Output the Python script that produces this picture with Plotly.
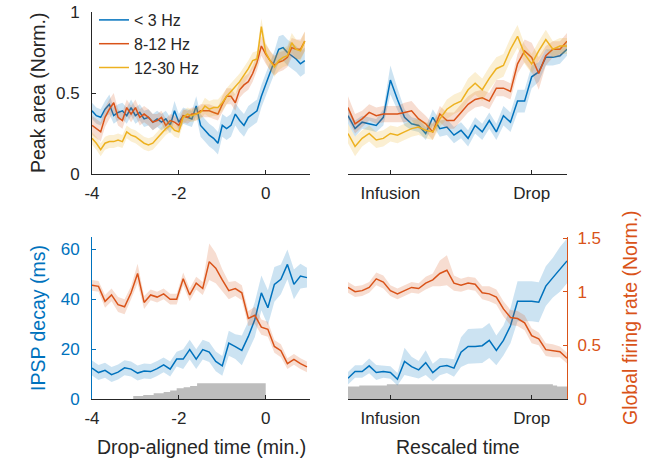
import numpy as np
import plotly.graph_objects as go

W, H = 652, 461

# ---------------- data ----------------
# Top-left: peak area vs drop-aligned time (min.)
t_tl = np.round(np.arange(-4.0, 0.95, 0.1), 2)
tl_low = [0.39,0.36,0.35,0.40,0.43,0.36,0.38,0.39,0.36,0.41,
          0.36,0.38,0.34,0.35,0.32,0.34,0.32,0.34,0.30,0.39,
          0.32,0.36,0.35,0.34,0.42,0.30,0.27,0.24,0.22,0.19,
          0.30,0.28,0.30,0.37,0.33,0.30,0.35,0.37,0.39,0.48,
          0.55,0.62,0.69,0.77,0.78,0.75,0.73,0.71,0.68,0.70]
tl_low_err = [0.05,0.05,0.05,0.05,0.06,0.05,0.05,0.05,0.05,0.05,
              0.05,0.05,0.05,0.05,0.05,0.05,0.05,0.05,0.05,0.06,
              0.05,0.05,0.05,0.05,0.06,0.07,0.07,0.07,0.07,0.07,
              0.07,0.07,0.07,0.07,0.07,0.07,0.07,0.07,0.07,0.07,
              0.07,0.07,0.07,0.08,0.08,0.08,0.08,0.08,0.08,0.08]
tl_alpha = [0.30,0.28,0.26,0.35,0.40,0.44,0.35,0.33,0.41,0.37,
            0.41,0.35,0.37,0.35,0.32,0.33,0.35,0.30,0.33,0.32,
            0.30,0.36,0.35,0.37,0.37,0.39,0.39,0.39,0.38,0.37,
            0.43,0.48,0.48,0.44,0.52,0.55,0.57,0.62,0.69,0.79,
            0.74,0.70,0.67,0.69,0.70,0.72,0.78,0.77,0.77,0.82]
tl_alpha_err = [0.06,0.06,0.06,0.06,0.06,0.06,0.05,0.05,0.05,0.05,
                0.05,0.05,0.05,0.05,0.05,0.04,0.04,0.04,0.04,0.04,
                0.04,0.04,0.04,0.04,0.04,0.04,0.04,0.04,0.04,0.04,
                0.05,0.05,0.05,0.05,0.05,0.05,0.05,0.05,0.05,0.06,
                0.06,0.06,0.06,0.06,0.06,0.06,0.06,0.06,0.06,0.06]
tl_beta = [0.22,0.19,0.15,0.19,0.20,0.20,0.21,0.20,0.26,0.24,
           0.23,0.21,0.19,0.18,0.19,0.22,0.25,0.28,0.30,0.27,
           0.26,0.35,0.37,0.36,0.37,0.38,0.42,0.40,0.41,0.41,
           0.44,0.48,0.51,0.54,0.57,0.61,0.65,0.70,0.71,0.91,
           0.75,0.70,0.66,0.70,0.72,0.73,0.81,0.77,0.76,0.82]
tl_beta_err = [0.04,0.04,0.04,0.04,0.04,0.04,0.04,0.04,0.04,0.04,
               0.04,0.04,0.04,0.04,0.04,0.04,0.04,0.04,0.04,0.04,
               0.04,0.04,0.04,0.04,0.04,0.04,0.05,0.05,0.05,0.05,
               0.05,0.05,0.05,0.05,0.05,0.05,0.05,0.05,0.05,0.05,
               0.06,0.06,0.06,0.06,0.06,0.06,0.06,0.06,0.06,0.06]

# Top-right: peak area vs rescaled time (bin index)
r_idx = np.arange(32)
tr_low = [0.36,0.28,0.32,0.31,0.30,0.35,0.58,0.46,0.35,0.31,
          0.30,0.25,0.35,0.28,0.29,0.24,0.27,0.22,0.30,0.26,
          0.33,0.26,0.36,0.32,0.45,0.45,0.60,0.63,0.72,0.72,
          0.73,0.77]
tr_low_err = [0.05,0.05,0.04,0.04,0.04,0.05,0.09,0.07,0.05,0.04,
              0.04,0.04,0.05,0.05,0.05,0.05,0.05,0.05,0.05,0.05,
              0.05,0.05,0.06,0.06,0.07,0.07,0.07,0.06,0.05,0.05,
              0.05,0.04]
tr_alpha = [0.41,0.31,0.34,0.38,0.36,0.37,0.37,0.37,0.38,0.39,
            0.34,0.31,0.26,0.37,0.33,0.33,0.38,0.43,0.46,0.47,
            0.45,0.53,0.53,0.51,0.68,0.76,0.72,0.62,0.73,0.77,
            0.77,0.82]
tr_alpha_err = [0.07,0.06,0.05,0.05,0.05,0.05,0.05,0.05,0.06,0.06,
                0.06,0.05,0.05,0.05,0.05,0.05,0.05,0.05,0.05,0.05,
                0.05,0.05,0.05,0.05,0.06,0.07,0.09,0.10,0.06,0.05,
                0.05,0.05]
tr_beta = [0.25,0.17,0.22,0.25,0.21,0.22,0.25,0.24,0.26,0.28,
           0.29,0.27,0.26,0.34,0.40,0.43,0.45,0.52,0.56,0.52,
           0.59,0.65,0.67,0.77,0.85,0.74,0.68,0.76,0.83,0.77,
           0.79,0.79]
tr_beta_err = [0.06,0.06,0.05,0.05,0.05,0.05,0.05,0.05,0.05,0.05,
               0.05,0.05,0.05,0.05,0.06,0.06,0.06,0.07,0.07,0.07,
               0.07,0.07,0.07,0.07,0.07,0.06,0.06,0.06,0.06,0.05,
               0.05,0.05]

# Bottom-left: IPSP decay (ms) and global firing rate (Norm.) vs drop-aligned time
t_bl = np.round(np.arange(-4.0, 1.0, 0.15), 2)
bl_ipsp = [12.4,10.6,11.5,9.8,10.8,12.5,12.0,10.4,11.2,11.0,
           12.2,13.7,12.0,16.0,16.0,19.8,16.0,19.8,18.8,15.1,
           13.3,22.4,21.0,19.5,25.1,31.9,42.6,36.6,46.0,48.0,
           54.0,46.0,49.3,48.7]
bl_ipsp_err = [3,3,3,3,3,3,3,3,3,3,
               3,3,3,3,4,4,4,4,4,4,
               4,5,5,6,6,7,7,7,7,6,
               6,6,5,4]
bl_rate = [1.06,1.05,0.91,0.97,0.88,0.86,0.99,1.17,0.90,0.97,
           0.95,0.98,0.93,0.93,1.12,0.97,1.08,1.03,1.28,1.22,
           1.11,1.01,1.03,0.99,0.75,0.78,0.67,0.65,0.49,0.45,
           0.33,0.37,0.33,0.30]
bl_rate_err = [0.05,0.05,0.06,0.06,0.07,0.07,0.06,0.09,0.06,0.05,
               0.05,0.05,0.05,0.05,0.06,0.06,0.06,0.06,0.17,0.14,
               0.10,0.08,0.07,0.07,0.07,0.08,0.07,0.07,0.06,0.06,
               0.05,0.05,0.05,0.05]
bl_cov_t = [-3.05,-2.82,-2.58,-2.35,-2.2,-2.05,-1.89,-1.74,-1.58,0.0]
bl_cov_h = [1.2,1.6,2.3,2.8,3.4,4.3,4.7,5.2,6.3,6.3]

# Bottom-right: same vs rescaled time
br_ipsp = [8.3,11.0,11.0,13.3,10.6,11.0,10.6,7.9,15.1,13.0,
           11.7,14.6,10.6,13.0,13.4,12.4,18.8,21.1,21.1,21.4,
           23.5,19.5,23.5,29.4,39.2,39.2,39.2,38.8,45.3,48.7,
           52.0,55.4]
br_ipsp_err = [2.5,2.5,2.5,3.0,3.0,2.5,2.5,2.5,5.5,4.0,
               3.5,5.0,3.5,3.5,3.0,3.5,6.0,7.0,7.0,7.0,
               7.0,6.0,6.0,7.0,8.0,8.0,8.0,8.0,8.0,8.0,
               9.0,9.0]
br_rate = [1.04,1.00,1.01,1.04,1.12,1.09,1.01,0.98,1.01,1.04,
           1.03,1.08,1.11,1.17,1.20,1.08,1.06,1.08,1.07,0.99,
           0.98,0.95,0.84,0.76,0.75,0.71,0.59,0.56,0.46,0.45,
           0.44,0.38]
br_rate_err = [0.05,0.05,0.05,0.05,0.06,0.06,0.05,0.05,0.05,0.05,
               0.05,0.06,0.06,0.12,0.14,0.07,0.06,0.06,0.06,0.06,
               0.07,0.07,0.07,0.07,0.07,0.07,0.07,0.06,0.06,0.06,
               0.05,0.05]
br_cov_t = [0.0,1.6,5.5,29.0,29.6,31.0]
br_cov_h = [5.0,5.4,5.9,5.4,5.0,5.0]

series_names = ["< 3 Hz", "8-12 Hz", "12-30 Hz"]
left_ticks = [-4, -2, 0]
left_ticktext = ["-4", "-2", "0"]
res_ticks = [6, 26]
res_ticktext = ["Infusion", "Drop"]

# ---------------- style ----------------
BLUE = "#0072BD"
RED = "#D95319"
YEL = "#EDB120"
BAND = {BLUE: "rgba(0,114,189,0.2)", RED: "rgba(217,83,25,0.2)", YEL: "rgba(237,177,32,0.2)"}
AX = "#262626"
GRAY = "#BDBDBD"
FONT = "Liberation Sans, Arial, sans-serif"
TICK_FS = 17
TITLE_FS = 19.5

fig = go.Figure()


def add_series(x, y, e, color, xa, ya, name=None, legend=False):
    x = list(x)
    up = [a + b for a, b in zip(y, e)]
    lo = [a - b for a, b in zip(y, e)]
    fig.add_trace(go.Scatter(x=x + x[::-1], y=up + lo[::-1], fill="toself",
                             fillcolor=BAND[color], line=dict(width=0), mode="lines",
                             hoverinfo="skip", showlegend=False, xaxis=xa, yaxis=ya))
    fig.add_trace(go.Scatter(x=x, y=y, mode="lines", line=dict(color=color, width=1.5),
                             name=name, showlegend=legend, xaxis=xa, yaxis=ya))


def add_cov(x, h, xa, ya):
    fig.add_trace(go.Scatter(x=x, y=h, mode="lines", line=dict(color=GRAY, width=0, shape="hv"),
                             fill="tozeroy", fillcolor=GRAY, showlegend=False,
                             hoverinfo="skip", xaxis=xa, yaxis=ya))


# top-left
for yv, ev, c, n in [(tl_low, tl_low_err, BLUE, series_names[0]),
                     (tl_alpha, tl_alpha_err, RED, series_names[1]),
                     (tl_beta, tl_beta_err, YEL, series_names[2])]:
    add_series(t_tl, yv, ev, c, "x", "y", n, True)
# top-right
for yv, ev, c in [(tr_low, tr_low_err, BLUE), (tr_alpha, tr_alpha_err, RED), (tr_beta, tr_beta_err, YEL)]:
    add_series(r_idx, yv, ev, c, "x2", "y2")
# bottom-left
add_cov(bl_cov_t, bl_cov_h, "x3", "y3")
add_series(t_bl, bl_ipsp, bl_ipsp_err, BLUE, "x3", "y3")
add_series(t_bl, bl_rate, bl_rate_err, RED, "x3", "y6")
# bottom-right
add_cov(br_cov_t, br_cov_h, "x4", "y4")
add_series(r_idx, br_ipsp, br_ipsp_err, BLUE, "x4", "y4")
add_series(r_idx, br_rate, br_rate_err, RED, "x4", "y5")

# ---------------- layout ----------------
def px(v):
    return v / W


def py(v):
    return 1 - v / H


xl = [px(92), px(310)]
xr = [px(348), px(567)]
yt = [py(174), py(12)]
yb = [py(399), py(237)]

tickfont = dict(family=FONT, size=TICK_FS, color=AX)
common_x = dict(showline=True, linecolor=AX, linewidth=1, ticks="inside", ticklen=4,
                tickcolor=AX, tickfont=tickfont, showgrid=False, zeroline=False,
                ticklabelstandoff=4, fixedrange=True, automargin=False)

fig.update_layout(
    template="none",
    width=W, height=H, margin=dict(l=0, r=0, t=0, b=0, pad=0, autoexpand=False),
    paper_bgcolor="white", plot_bgcolor="rgba(0,0,0,0)",
    font=dict(family=FONT, color=AX),
    showlegend=True,
    legend=dict(x=px(94), y=py(3), xanchor="left", yanchor="top",
                bgcolor="rgba(0,0,0,0)", font=dict(family=FONT, size=16, color=AX),
                tracegroupgap=0),
    xaxis=dict(domain=xl, anchor="y", range=[-4, 1.02], tickvals=left_ticks,
               ticktext=left_ticktext, **common_x),
    yaxis=dict(domain=yt, anchor="x", range=[0, 1], tickvals=[0, 0.5, 1], ticktext=["0", "0.5", "1"],
               showline=True, linecolor=AX, ticks="inside", ticklen=4, tickcolor=AX,
               tickfont=tickfont, showgrid=False, zeroline=False, ticklabelstandoff=8,
               automargin=False),
    xaxis2=dict(domain=xr, anchor="y2", range=[0, 31], tickvals=res_ticks,
                ticktext=res_ticktext, **common_x),
    yaxis2=dict(domain=yt, anchor="x2", range=[0, 1], visible=False, automargin=False),
    xaxis3=dict(domain=xl, anchor="y3", range=[-4, 1.02], tickvals=left_ticks,
                ticktext=left_ticktext, **common_x),
    yaxis3=dict(domain=yb, anchor="x3", range=[0, 65], tickvals=[0, 20, 40, 60],
                showline=True, linecolor=BLUE, ticks="inside", ticklen=4, tickcolor=BLUE,
                tickfont=dict(family=FONT, size=TICK_FS, color=BLUE),
                showgrid=False, zeroline=False, ticklabelstandoff=8, automargin=False),
    yaxis6=dict(domain=yb, anchor="x3", overlaying="y3", range=[0, 1.51], visible=False,
                automargin=False),
    xaxis4=dict(domain=xr, anchor="y4", range=[0, 31], tickvals=res_ticks,
                ticktext=res_ticktext, **common_x),
    yaxis4=dict(domain=yb, anchor="x4", range=[0, 65], visible=False, automargin=False),
    yaxis5=dict(domain=yb, anchor="x4", overlaying="y4", side="right", range=[0, 1.51],
                tickvals=[0, 0.5, 1, 1.5], ticktext=["0", "0.5", "1", "1.5"],
                showline=True, linecolor=RED, ticks="inside", ticklen=4, tickcolor=RED,
                tickfont=dict(family=FONT, size=TICK_FS, color=RED),
                showgrid=False, zeroline=False, ticklabelstandoff=6, automargin=False),
)

annots = [
    dict(text="Peak area (Norm.)", x=px(38), y=py(93), textangle=-90, color=AX),
    dict(text="IPSP decay (ms)", x=px(38), y=py(318), textangle=-90, color=BLUE),
    dict(text="Global firing rate (Norm.)", x=px(630), y=py(318), textangle=-90, color=RED),
    dict(text="Drop-aligned time (min.)", x=px(201), y=py(447), textangle=0, color=AX),
    dict(text="Rescaled time", x=px(458), y=py(447), textangle=0, color=AX),
]
for a in annots:
    fig.add_annotation(text=a["text"], x=a["x"], y=a["y"], xref="paper", yref="paper",
                       xanchor="center", yanchor="middle", textangle=a["textangle"],
                       showarrow=False, font=dict(family=FONT, size=TITLE_FS, color=a["color"]))

fig.write_html("out.html", config={"displayModeBar": False},
               post_script="document.body.style.margin='0px';document.body.style.overflow='hidden';")
